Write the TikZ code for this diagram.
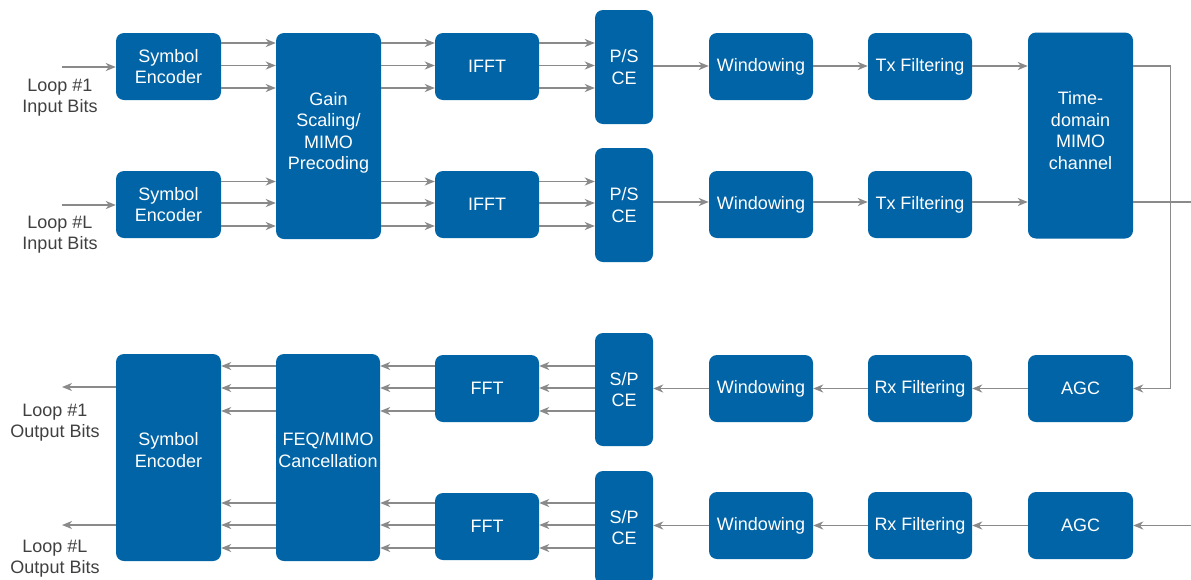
\documentclass[tikz,border=0pt]{standalone}
\usepackage{fontspec}
\setmainfont{Liberation Sans}
\usetikzlibrary{arrows.meta}
\definecolor{boxblue}{HTML}{0064A6}
\definecolor{arrgray}{HTML}{8A8A8A}
\definecolor{txtgray}{HTML}{404040}
\newcommand{\dropby}[1]{\rule[-#1]{0pt}{#1}}
\begin{document}
\begin{tikzpicture}[x=1pt,y=-1pt,
  blk/.style={draw=none, fill=boxblue, rounded corners=8pt, text=white, align=center,
    inner sep=0pt, font=\fontsize{18}{21.5}\selectfont},
  bsz/.style 2 args={minimum width=#1pt, minimum height=#2pt},
  arr/.style={draw=arrgray, line width=1.5pt, -{Stealth[length=10pt,width=8pt,inset=3pt]}},
  ln/.style={draw=arrgray, line width=1.5pt},
  lbl/.style={text=txtgray, align=center, inner sep=0pt, font=\fontsize{18}{21}\selectfont}]
\clip (0,0) rectangle (1191,579);
% top half
\node[blk, bsz={105}{67}] (se1) at (168.5,66.5) {Symbol\\Encoder};
\node[blk, bsz={105}{67}] (se2) at (168.5,204.5) {Symbol\\Encoder};
\node[blk, bsz={105}{206}] (gain) at (328.5,136) {Gain\\Scaling/\\MIMO\\Precoding\dropby{10pt}};
\node[blk, bsz={104}{67}] (ifft1) at (487,66.5) {IFFT};
\node[blk, bsz={104}{67}] (ifft2) at (487,204.5) {IFFT};
\node[blk, bsz={58}{114}] (ps1) at (624,67) {P/S\\CE};
\node[blk, bsz={58}{114}] (ps2) at (624,205) {P/S\\CE};
\node[blk, bsz={104}{67}] (win1) at (761,66.5) {Windowing};
\node[blk, bsz={104}{67}] (win2) at (761,204.5) {Windowing};
\node[blk, bsz={104}{67}] (tx1) at (920,66.5) {Tx Filtering};
\node[blk, bsz={104}{67}] (tx2) at (920,204.5) {Tx Filtering};
\node[blk, bsz={105}{206}] (tdm) at (1080.5,135.5) {Time-\\domain\\MIMO\\channel\dropby{10pt}};
% bottom half
\node[blk, bsz={105}{67}] (agc1) at (1080.5,388.5) {AGC};
\node[blk, bsz={105}{67}] (agc2) at (1080.5,525.5) {AGC};
\node[blk, bsz={104}{67}] (rx1) at (920,388.5) {Rx Filtering};
\node[blk, bsz={104}{67}] (rx2) at (920,525.5) {Rx Filtering};
\node[blk, bsz={104}{67}] (win3) at (761,388.5) {Windowing};
\node[blk, bsz={104}{67}] (win4) at (761,525.5) {Windowing};
\node[blk, bsz={58}{113}] (sp1) at (624,389.5) {S/P\\CE};
\node[blk, bsz={58}{113}] (sp2) at (624,527.5) {S/P\\CE};
\node[blk, bsz={104}{67}] (fft1) at (487,388.5) {FFT};
\node[blk, bsz={104}{67}] (fft2) at (487,526.5) {FFT};
\node[blk, bsz={104}{207}] (feq) at (328,457.5) {FEQ/MIMO\\Cancellation\dropby{15pt}};
\node[blk, bsz={105}{207}] (se3) at (168.5,457.5) {Symbol\\Encoder\dropby{15pt}};
% labels
\node[lbl] (lab1) at (60,97.5) {Loop \#1\\Input Bits};
\node[lbl] (lab2) at (60,235) {Loop \#L\\Input Bits};
\node[lbl] (lab3) at (55,422.5) {Loop \#1\\Output Bits};
\node[lbl] (lab4) at (55,558.5) {Loop \#L\\Output Bits};
% free ends
\coordinate (in1) at (62,67);
\coordinate (in2) at (62,205);
\coordinate (out1) at (62,387);
\coordinate (out2) at (62,525);
\coordinate (bend1) at (1170.5,66);
\coordinate (bend2) at (1170.5,388.5);
\coordinate (edge1) at (1191,202);
\coordinate (edge2) at (1191,525.5);
% inputs
\draw[arr] (in1) -- (se1.west |- in1);
\draw[arr] (in2) -- (se2.west |- in2);
% triple buses top
\foreach \yy in {43,65.5,88} {
  \draw[arr] (se1.east |- 0,\yy) -- (gain.west |- 0,\yy);
  \draw[arr] (gain.east |- 0,\yy) -- (ifft1.west |- 0,\yy);
  \draw[arr] (ifft1.east |- 0,\yy) -- (ps1.west |- 0,\yy);
}
\foreach \yy in {181.5,203,226} {
  \draw[arr] (se2.east |- 0,\yy) -- (gain.west |- 0,\yy);
  \draw[arr] (gain.east |- 0,\yy) -- (ifft2.west |- 0,\yy);
  \draw[arr] (ifft2.east |- 0,\yy) -- (ps2.west |- 0,\yy);
}
% single chains top
\draw[arr] (ps1.east |- 0,66) -- (win1.west |- 0,66);
\draw[arr] (win1.east |- 0,66) -- (tx1.west |- 0,66);
\draw[arr] (tx1.east |- 0,66) -- (tdm.west |- 0,66);
\draw[arr] (ps2.east |- 0,202) -- (win2.west |- 0,202);
\draw[arr] (win2.east |- 0,202) -- (tx2.west |- 0,202);
\draw[arr] (tx2.east |- 0,202) -- (tdm.west |- 0,202);
% channel outputs
\draw[arr] (tdm.east |- bend1) -- (bend1) -- (bend2) -- (agc1.east);
\draw[ln] (tdm.east |- edge1) -- (edge1);
\draw[arr] (edge2) -- (agc2.east);
% single chains bottom
\draw[arr] (agc1.west) -- (rx1.east);
\draw[arr] (rx1.west) -- (win3.east);
\draw[arr] (win3.west) -- (sp1.east |- win3.west);
\draw[arr] (agc2.west) -- (rx2.east);
\draw[arr] (rx2.west) -- (win4.east);
\draw[arr] (win4.west) -- (sp2.east |- win4.west);
% triple buses bottom
\foreach \yy in {366,388,411} {
  \draw[arr] (sp1.west |- 0,\yy) -- (fft1.east |- 0,\yy);
  \draw[arr] (fft1.west |- 0,\yy) -- (feq.east |- 0,\yy);
  \draw[arr] (feq.west |- 0,\yy) -- (se3.east |- 0,\yy);
}
\foreach \yy in {503,525,548} {
  \draw[arr] (sp2.west |- 0,\yy) -- (fft2.east |- 0,\yy);
  \draw[arr] (fft2.west |- 0,\yy) -- (feq.east |- 0,\yy);
  \draw[arr] (feq.west |- 0,\yy) -- (se3.east |- 0,\yy);
}
% outputs
\draw[arr] (se3.west |- out1) -- (out1);
\draw[arr] (se3.west |- out2) -- (out2);
\end{tikzpicture}
\end{document}
